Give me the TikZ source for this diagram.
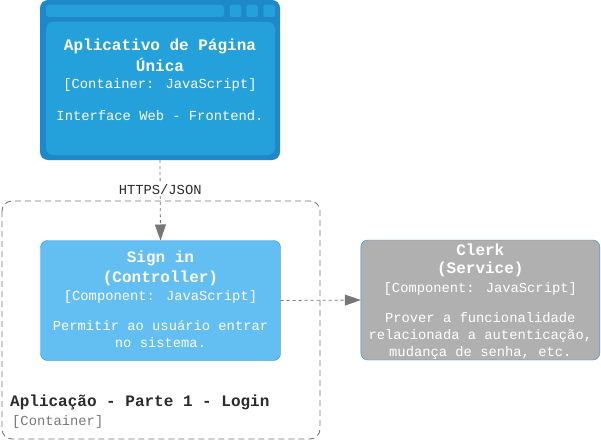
\documentclass[tikz,border=0pt]{standalone}
\usepackage{fontspec}
\newfontfamily\monofont{Liberation Mono}
\usetikzlibrary{arrows.meta,positioning}

\definecolor{spaouter}{HTML}{1E88C8}
\definecolor{spainner}{HTML}{24A0DB}
\definecolor{compfill}{HTML}{63BEF2}
\definecolor{compline}{HTML}{2E8FD6}
\definecolor{extfill}{HTML}{B0B0B0}
\definecolor{relgray}{HTML}{777777}
\definecolor{boundgray}{HTML}{777777}
\definecolor{labeldark}{HTML}{2B2B2B}

\tikzset{
  boxtext/.style={align=center,text=white,inner sep=0pt,anchor=north,
    font=\monofont\fontsize{13.8}{17}\selectfont},
  compbox/.style={draw=compline,fill=compfill,rounded corners=7pt,inner sep=0pt,outer sep=0pt,
    minimum width=240pt,minimum height=120pt},
  extbox/.style={compbox,fill=extfill},
  rel/.style={draw=relgray,line width=0.8pt,dash pattern=on 3pt off 3pt,
    -{Triangle[length=16pt,width=11pt,fill=relgray,sep=0pt]}},
}

\newcommand{\ttl}[1]{{\bfseries\fontsize{16}{17}\selectfont #1}}

\begin{document}
\begin{tikzpicture}[x=1pt,y=-1pt]
  \useasboundingbox (0,0) rectangle (601,441);

  % single page app (browser window)
  \node[fill=spaouter,rounded corners=8pt,inner sep=0pt,minimum width=240pt,minimum height=160pt] (spa) at (160,80) {};
  \node[fill=spainner,rounded corners=7pt,inner sep=0pt,minimum width=229pt,minimum height=133pt] (spain) at (160.5,88.5) {};
  \node[fill=spainner,rounded corners=3pt,inner sep=0pt,minimum width=178pt,minimum height=12pt] (bar) at (135,11) {};
  \foreach \x/\n in {235.5/a,252/b,269/c}
    \node[fill=spainner,rounded corners=2pt,inner sep=0pt,minimum width=11.5pt,minimum height=12pt] (btn\n) at (\x,11) {};
  \node[boxtext] (spatext) at (160,39) {\ttl{Aplicativo de Página}\\[4pt]\ttl{Única}\\[0pt]
    [Container: JavaScript]\\[15pt]Interface Web - Frontend.};

  % boundary
  \draw[boundgray,line width=0.9pt,dash pattern=on 6pt off 4pt,rounded corners=10pt] (2,201) rectangle (320,439);
  \node[anchor=base west,inner sep=0pt,text=labeldark,font=\monofont\bfseries\fontsize{16}{17}\selectfont] (bname) at (10,406.5) {Aplicação - Parte 1 - Login};
  \node[anchor=base west,inner sep=0pt,text=boundgray,font=\monofont\fontsize{13.8}{17}\selectfont] (btype) at (12,425) {[Container]};

  % components
  \node[compbox] (signin) at (160.5,300.5) {};
  \node[boxtext] (signintext) at (160.5,251) {\ttl{Sign in}\\[3pt]\ttl{(Controller)}\\[0.5pt]
    [Component: JavaScript]\\[13pt]Permitir ao usuário entrar\\no sistema.};

  \node[extbox,minimum width=239pt] (clerk) at (480.3,300) {};
  \node[boxtext] (clerktext) at (480.3,244) {\ttl{Clerk}\\[1pt]\ttl{(Service)}\\[1.5pt]
    [Component: JavaScript]\\[13pt]Prover a funcionalidade\\relacionada a autenticação,\\mudança de senha, etc.};

  % relations
  \path[rel] (spa.south) -- node[pos=0.37,fill=white,inner sep=1pt,text=labeldark,font=\monofont\fontsize{13.8}{17}\selectfont] (httpslabel) {HTTPS/JSON} (signin.north);
  \path[rel] (signin.east) -- (clerk.west);
\end{tikzpicture}
\end{document}
